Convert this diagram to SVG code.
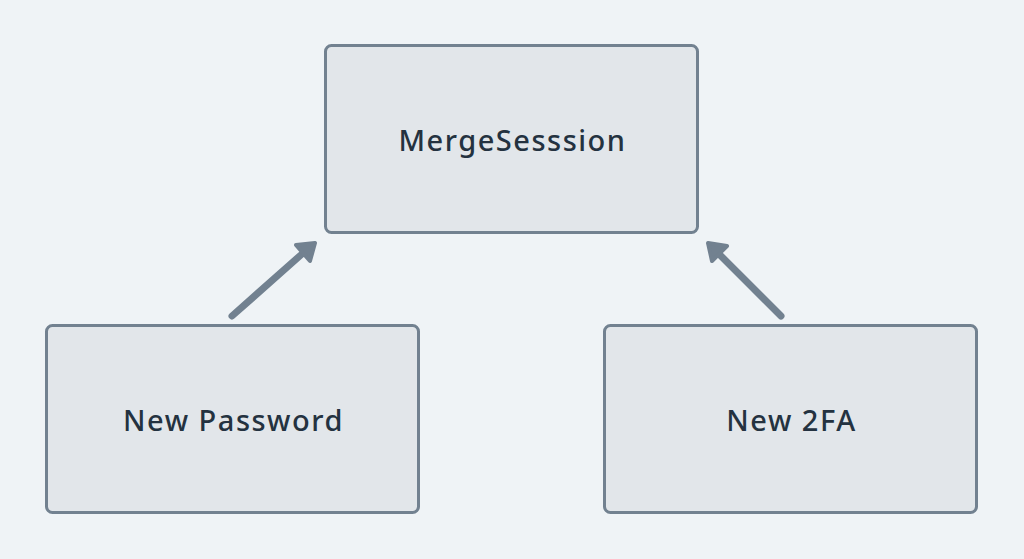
<svg xmlns="http://www.w3.org/2000/svg" width="1024" height="559" viewBox="0 0 1024 559">
<style>
.node rect{fill:#e2e6ea;stroke:#728190;stroke-width:3}
.node text{font-family:"Noto Sans","DejaVu Sans",sans-serif;font-size:29px;font-weight:500;letter-spacing:1.5px;fill:#243240;text-anchor:middle}
.edge{stroke:#728190;stroke-width:7;stroke-linecap:round;fill:none}
.head{fill:#728190;stroke:#728190;stroke-width:4;stroke-linejoin:round}
</style>
<rect width="1024" height="559" fill="#eff3f6"/>
<g id="merge" class="node"><rect x="325.5" y="45.5" width="372" height="187" rx="6"/><text x="512.5" y="151">MergeSesssion</text></g>
<g id="password" class="node"><rect x="46.5" y="325.5" width="372" height="187" rx="6"/><text x="233.5" y="431">New Password</text></g>
<g id="twofa" class="node"><rect x="604.5" y="325.5" width="372" height="187" rx="6"/><text x="791.5" y="431">New 2FA</text></g>
<g id="connectors">
<line class="edge" x1="232" y1="316" x2="302" y2="254"/>
<polygon class="head" points="315,243 296,245 310,261"/>
<line class="edge" x1="781" y1="316" x2="719" y2="254"/>
<polygon class="head" points="708,243 712,261 727,246"/>
</g>
</svg>
